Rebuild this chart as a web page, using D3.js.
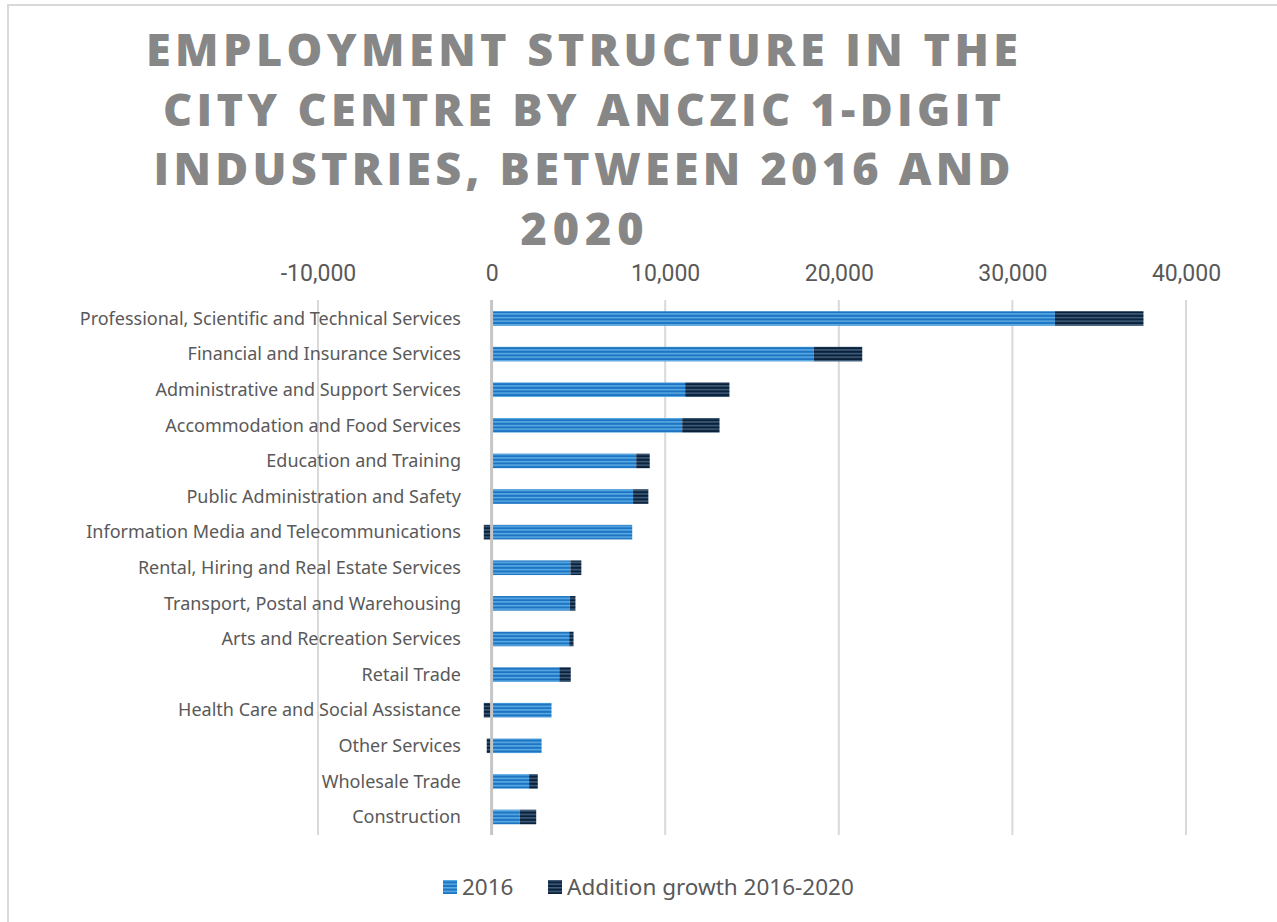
<!DOCTYPE html>
<html>
<head>
<meta charset="utf-8">
<script src="https://cdn.jsdelivr.net/npm/d3@7"></script>
<style>
  html, body { margin: 0; padding: 0; background: #ffffff; }
  svg { display: block; }
</style>
</head>
<body>
<svg id="chart" width="1277" height="922"></svg>
<script>
// Industries, top to bottom
const industries = [
  "Professional, Scientific and Technical Services",
  "Financial and Insurance Services",
  "Administrative and Support Services",
  "Accommodation and Food Services",
  "Education and Training",
  "Public Administration and Safety",
  "Information Media and Telecommunications",
  "Rental, Hiring and Real Estate Services",
  "Transport, Postal and Warehousing",
  "Arts and Recreation Services",
  "Retail Trade",
  "Health Care and Social Assistance",
  "Other Services",
  "Wholesale Trade",
  "Construction"
];

// Jobs in 2016
const jobs2016 = [32450, 18550, 11150, 10980, 8330, 8150, 8100, 4540, 4500, 4470, 3900, 3450, 2880, 2160, 1620];

// Change in jobs between 2016 and 2020
const growth = [5100, 2800, 2550, 2150, 780, 880, -450, 630, 330, 250, 660, -450, -280, 500, 950];

const xTicks = [-10000, 0, 10000, 20000, 30000, 40000];
const seriesNames = ["2016", "Addition growth 2016-2020"];

const titleLines = [
  "EMPLOYMENT STRUCTURE IN THE",
  "CITY CENTRE BY ANCZIC 1-DIGIT",
  "INDUSTRIES, BETWEEN 2016 AND",
  "2020"
];

const svg = d3.select("#chart");
const defs = svg.append("defs");

// Striped fills for the two series
function stripes(id, base, light) {
  const p = defs.append("pattern")
    .attr("id", id)
    .attr("patternUnits", "userSpaceOnUse")
    .attr("width", 8).attr("height", 3.6);
  p.append("rect").attr("width", 8).attr("height", 3.6).attr("fill", base);
  p.append("rect").attr("y", 0).attr("width", 8).attr("height", 1.5).attr("fill", light);
}
stripes("pat2016", "#1c74c2", "#5eade4");
stripes("patGrowth", "#0b2039", "#40607f");

// Chart frame
svg.append("rect")
  .attr("x", 8).attr("y", 5)
  .attr("width", 1300).attr("height", 940)
  .attr("fill", "none")
  .attr("stroke", "#d9d9d9")
  .attr("stroke-width", 2);

// Title
const title = svg.append("g");
const titleWidths = [872, 838, 857, 123];
titleLines.forEach((line, i) => {
  title.append("text")
    .attr("x", 582)
    .attr("y", 66 + i * 59.7)
    .attr("text-anchor", "middle")
    .attr("font-family", "'Open Sans', 'DejaVu Sans', sans-serif")
    .attr("font-weight", 800)
    .attr("font-size", 45)
    .attr("fill", "#878787")
    .attr("textLength", titleWidths[i])
    .attr("lengthAdjust", "spacing")
    .text(line);
});

// Scales
const x = d3.scaleLinear().domain([-10000, 40000]).range([318, 1186]);
const y = d3.scaleBand().domain(industries).range([300.7, 834.8]).paddingInner(0.59).paddingOuter(0.295);

// Gridlines
const grid = svg.append("g");
grid.selectAll("line")
  .data(xTicks.filter(t => t !== 0))
  .join("line")
  .attr("x1", d => x(d)).attr("x2", d => x(d))
  .attr("y1", 300).attr("y2", 835)
  .attr("stroke", "#d9d9d9")
  .attr("stroke-width", 2);

// Top axis labels (plain hyphen for negatives)
const fmt = d3.format(",");
const axis = svg.append("g")
  .attr("transform", "translate(0,281)")
  .call(d3.axisTop(x).tickValues(xTicks).tickFormat(d => fmt(d).replace("\u2212", "-")).tickSize(0).tickPadding(0));
axis.select(".domain").remove();
axis.selectAll("text")
  .attr("font-family", "Roboto, sans-serif")
  .attr("font-size", 23)
  .attr("fill", "#595959");

// Category labels
svg.append("g")
  .selectAll("text")
  .data(industries)
  .join("text")
  .attr("x", 461)
  .attr("y", d => y(d) + y.bandwidth() / 2)
  .attr("dy", "0.35em")
  .attr("text-anchor", "end")
  .attr("font-family", "'Noto Sans', 'Open Sans', sans-serif")
  .attr("font-size", 18)
  .attr("fill", "#595959")
  .text(d => d);

// Bars
const rows = industries.map((name, i) => ({ name, v: jobs2016[i], g: growth[i] }));
const bars = svg.append("g");
bars.selectAll("rect.base")
  .data(rows)
  .join("rect")
  .attr("class", "base")
  .attr("x", d => x(0))
  .attr("y", d => y(d.name))
  .attr("width", d => x(d.v) - x(0))
  .attr("height", y.bandwidth())
  .attr("fill", "url(#pat2016)");

bars.selectAll("rect.growth")
  .data(rows)
  .join("rect")
  .attr("class", "growth")
  .attr("x", d => d.g >= 0 ? x(d.v) : x(d.g))
  .attr("y", d => y(d.name))
  .attr("width", d => d.g >= 0 ? x(d.v + d.g) - x(d.v) : x(0) - x(d.g))
  .attr("height", y.bandwidth())
  .attr("fill", "url(#patGrowth)");

// Zero line
svg.append("line")
  .attr("x1", x(0)).attr("x2", x(0))
  .attr("y1", 300).attr("y2", 835)
  .attr("stroke", "#c6c6c6")
  .attr("stroke-width", 3);

// Legend
const legend = svg.append("g").attr("transform", "translate(0,887)");
const legendItems = [
  { name: seriesNames[0], fill: "url(#pat2016)", x: 443 },
  { name: seriesNames[1], fill: "url(#patGrowth)", x: 548 }
];
legendItems.forEach(item => {
  legend.append("rect")
    .attr("x", item.x).attr("y", -7)
    .attr("width", 14).attr("height", 14)
    .attr("fill", item.fill);
  legend.append("text")
    .attr("x", item.x + 19)
    .attr("y", 0)
    .attr("dy", "0.35em")
    .attr("font-family", "'Noto Sans', 'Open Sans', sans-serif")
    .attr("font-size", 22.5)
    .attr("fill", "#595959")
    .text(item.name);
});
</script>
</body>
</html>
